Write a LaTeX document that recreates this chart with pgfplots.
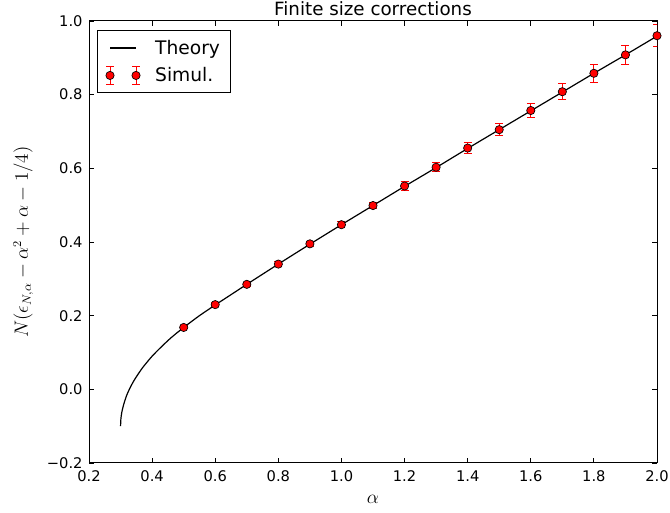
\documentclass[border=0pt]{standalone}
\usepackage{pgfplots}
\pgfplotsset{compat=1.18}
\usepackage{fontspec}
\setmainfont{DejaVu Sans}
\begin{document}
\begin{tikzpicture}
\useasboundingbox (0,0) rectangle (502.5pt,384.75pt);
\begin{axis}[
  at={(66.75pt,37.5pt)}, anchor=south west,
  width=426pt, height=331.5pt, scale only axis,
  xmin=0.2, xmax=2.0, ymin=-0.2, ymax=1.0,
  xtick={0.2,0.4,0.6,0.8,1.0,1.2,1.4,1.6,1.8,2.0},
  xticklabels={0.2,0.4,0.6,0.8,1.0,1.2,1.4,1.6,1.8,2.0},
  ytick={-0.2,0,0.2,0.4,0.6,0.8,1.0},
  yticklabels={−0.2,0.0,0.2,0.4,0.6,0.8,1.0},
  tick align=inside, tick pos=both,
  major tick length=3.5pt,
  tick style={black, line width=0.6pt},
  axis line style={line width=0.75pt},
  ticklabel style={font=\fontsize{11}{13}\selectfont},
  yticklabel style={xshift=-1.3pt},
  xticklabel style={yshift=-2pt},
  every axis title shift=0pt,
  title={Finite size corrections},
  title style={at={(axis description cs:0.5,1.0113)}, anchor=base, font=\fontsize{13.7}{16}\selectfont},
  xlabel={$\alpha$},
  xlabel style={at={(axis description cs:0.5,-0.0915)}, anchor=base, font=\fontsize{14}{16}\selectfont},
  ylabel={$N(\epsilon_{N,\alpha}-\alpha^2+\alpha-1/4)$},
  ylabel style={at={(axis description cs:-0.1074,0.5)}, anchor=base, font=\fontsize{13.5}{16}\selectfont},
  legend style={at={(axis description cs:0.0141,0.9796)}, anchor=north west,
     draw=black, line width=0.75pt, fill=white, inner xsep=6pt, inner ysep=5pt,
     row sep=4.5pt, font=\fontsize{14}{16}\selectfont,
     /tikz/every odd column/.append style={column sep=9pt}},
  legend cell align=left,
]
\addplot[forget plot, only marks, mark=*, mark size=3.1pt, mark options={fill=red, draw=black, line width=0.5pt},
  error bars/.cd, y dir=both, y explicit,
  error bar style={red, line width=0.75pt},
  error mark options={rotate=90, red, mark size=3pt, line width=0.75pt}]
  coordinates {
(0.5,0.168) +- (0,0.004)
(0.6,0.230) +- (0,0.005)
(0.7,0.285) +- (0,0.006)
(0.8,0.340) +- (0,0.006)
(0.9,0.395) +- (0,0.007)
(1.0,0.447) +- (0,0.008)
(1.1,0.499) +- (0,0.009)
(1.2,0.552) +- (0,0.011)
(1.3,0.603) +- (0,0.012)
(1.4,0.655) +- (0,0.014)
(1.5,0.705) +- (0,0.016)
(1.6,0.757) +- (0,0.018)
(1.7,0.808) +- (0,0.021)
(1.8,0.858) +- (0,0.024)
(1.9,0.908) +- (0,0.025)
(2.0,0.960) +- (0,0.030)
};
\addplot[forget plot, black, line width=0.9pt, smooth, tension=0.4] coordinates {
(0.3,-0.1) (0.301,-0.081) (0.303,-0.067) (0.306,-0.054) (0.31,-0.041) (0.315,-0.027) (0.32,-0.015) (0.33,0.004) (0.34,0.020) (0.35,0.034)
(0.37,0.059) (0.4,0.090) (0.43,0.116) (0.46,0.140) (0.5,0.168) (0.55,0.200)
(0.6,0.229) (0.65,0.257) (0.7,0.285) (0.8,0.340) (0.9,0.394) (1.0,0.447) (1.1,0.499) (1.2,0.551) (1.3,0.602) (1.4,0.654) (1.5,0.705) (1.6,0.756) (1.7,0.807) (1.8,0.858) (1.9,0.908) (2.0,0.959)
};
\addlegendimage{legend image code/.code={\draw[black, line width=0.9pt] (0pt,0pt) -- (19.5pt,0pt);}}
\addlegendentry{Theory}
\addlegendimage{legend image code/.code={
  \foreach \xx in {0pt,19.5pt}{
    \draw[red, line width=0.75pt] (\xx,-6.75pt) -- (\xx,6.75pt);
    \draw[red, line width=0.75pt] ([xshift=-3pt]\xx,-6.75pt) -- ([xshift=3pt]\xx,-6.75pt);
    \draw[red, line width=0.75pt] ([xshift=-3pt]\xx,6.75pt) -- ([xshift=3pt]\xx,6.75pt);
    \filldraw[fill=red, draw=black, line width=0.5pt] (\xx,0pt) circle (3.1pt);
  }}}
\addlegendentry{Simul.}
\end{axis}
\end{tikzpicture}
\end{document}
